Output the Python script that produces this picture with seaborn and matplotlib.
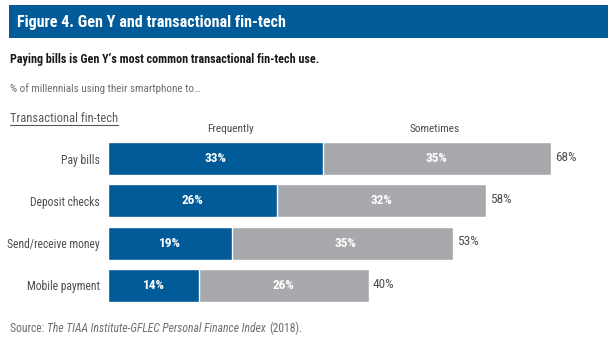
import matplotlib
matplotlib.use("Agg")
import matplotlib.pyplot as plt
import seaborn as sns
import pandas as pd
from matplotlib.lines import Line2D
from matplotlib.patches import Rectangle

categories = ["Pay bills", "Deposit checks", "Send/receive money", "Mobile payment"]
frequently = [33, 26, 19, 14]
sometimes = [35, 32, 35, 26]
totals = [68, 58, 53, 40]

BLUE = "#005B98"
GREY = "#A7A9AC"
TXT = "#4D4D4D"
FAM = ["Roboto Condensed", "Liberation Sans Narrow", "Roboto", "DejaVu Sans"]

sns.set_theme(style="white")
plt.rcParams["font.family"] = FAM

W, H = 608, 349
fig = plt.figure(figsize=(W / 100, H / 100), dpi=100)

def fx(x):
    return x / W

def fy(y):
    return 1 - y / H

# title banner
fig.patches.append(Rectangle((fx(9), fy(38)), fx(599), 33 / H, transform=fig.transFigure,
                             facecolor=BLUE, edgecolor="none", zorder=0))
fig.text(fx(17), fy(22), "Figure 4. Gen Y and transactional fin-tech", color="white",
         fontsize=11.6, fontweight="bold", va="center", ha="left")
fig.text(fx(10), fy(60), "Paying bills is Gen Y\u2019s most common transactional fin-tech use.",
         color="#1a1a1a", fontsize=8.7, fontweight="bold", va="center", ha="left")
fig.text(fx(10), fy(89), "% of millennials using their smartphone to\u2026",
         color="#6d6e71", fontsize=8.0, va="center", ha="left")
t_sub = fig.text(fx(10), fy(118), "Transactional fin-tech", color="#58595b", fontsize=9.0,
                 va="center", ha="left")

df = pd.DataFrame({"category": categories, "frequently": frequently,
                   "sometimes": sometimes, "total": totals})

px_per = (551 - 108) / 68.0
xmax = 76
bar_w = 0.78
ax = fig.add_axes([fx(108), fy(302), xmax * px_per / W, 160 / H])
sns.barplot(data=df, y="category", x="total", color=GREY, orient="h", width=bar_w,
            ax=ax, saturation=1)
sns.barplot(data=df, y="category", x="frequently", color=BLUE, orient="h", width=bar_w,
            ax=ax, saturation=1)
ax.set_xlim(0, xmax)
ax.set_ylim(3 + bar_w / 2, -bar_w / 2)
for s in ax.spines.values():
    s.set_visible(False)
ax.set_xticks([])
ax.set_xlabel("")
ax.set_ylabel("")
ax.tick_params(axis="y", length=0, pad=6, labelsize=8.4, labelcolor=TXT)

for i, (f, s, t) in enumerate(zip(frequently, sometimes, totals)):
    ax.text(f / 2, i, f"{f}%", color="white", fontsize=9.5, fontweight="bold",
            ha="center", va="center")
    ax.text(f + s / 2, i, f"{s}%", color="white", fontsize=9.5, fontweight="bold",
            ha="center", va="center")
    ax.text(t + 0.6, i - 0.03, f"{t}%", color=TXT, fontsize=9.5, ha="left", va="center")

fig.text(fx(230), fy(129), "Frequently", color=TXT, fontsize=8.2, ha="center", va="center")
fig.text(fx(435), fy(129), "Sometimes", color=TXT, fontsize=8.2, ha="center", va="center")

fig.canvas.draw()
r = fig.canvas.get_renderer()
bb0 = t_sub.get_window_extent(r)
fig.lines.append(Line2D([fx(10), bb0.x1 / W], [fy(125), fy(125)], transform=fig.transFigure,
                        color="#58595b", lw=0.8))

SRC = "#6d6e71"
t1 = fig.text(fx(10), fy(328), "Source: ", color=SRC, fontsize=8.4, ha="left", va="center")
bb = t1.get_window_extent(r)
t2 = fig.text(bb.x1 / W, fy(328), "The TIAA Institute-GFLEC Personal Finance Index",
              color=SRC, fontsize=8.4, ha="left", va="center", style="italic")
bb2 = t2.get_window_extent(r)
fig.text(bb2.x1 / W + 3 / W, fy(328), "(2018).", color=SRC, fontsize=8.4, ha="left", va="center")

fig.savefig("out.png", dpi=100)
